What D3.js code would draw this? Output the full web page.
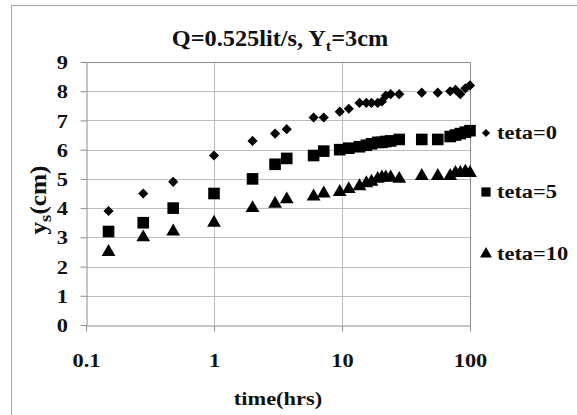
<!DOCTYPE html>
<html>
<head>
<meta charset="utf-8">
<script src="https://cdn.jsdelivr.net/npm/d3@7"></script>
<style>
  html, body { margin: 0; padding: 0; background: #fff; }
  svg { display: block; }
</style>
</head>
<body>
<svg id="chart" width="577" height="415"></svg>
<script>
// ---- data ----
const times  = [0.15, 0.28, 0.48, 1, 2, 3, 3.7, 6, 7.2, 9.6, 11.3, 13.7, 15.5, 17, 19, 20.5, 22, 24, 28, 42, 56, 70, 77, 84, 92, 100];
const teta0  = [3.9, 4.5, 4.9, 5.8, 6.3, 6.55, 6.7, 7.1, 7.1, 7.3, 7.4, 7.6, 7.6, 7.6, 7.6, 7.65, 7.85, 7.9, 7.9, 7.95, 7.95, 8.0, 8.05, 7.9, 8.1, 8.2];
const teta5  = [3.2, 3.5, 4.0, 4.5, 5.0, 5.5, 5.7, 5.8, 5.95, 6.0, 6.05, 6.1, 6.15, 6.2, 6.25, 6.25, 6.28, 6.3, 6.35, 6.35, 6.35, 6.45, 6.5, 6.55, 6.6, 6.65];
const teta10 = [2.5, 3.0, 3.2, 3.5, 4.0, 4.15, 4.3, 4.4, 4.5, 4.55, 4.65, 4.75, 4.85, 4.9, 5.0, 5.05, 5.05, 5.05, 5.0, 5.1, 5.1, 5.1, 5.2, 5.2, 5.25, 5.2];
const seriesNames = ["teta=0", "teta=5", "teta=10"];
const xTicks = [0.1, 1, 10, 100];
const xTickLabels = ["0.1", "1", "10", "100"];
const yTicks = [0, 1, 2, 3, 4, 5, 6, 7, 8, 9];

const FONT = "Liberation Serif";
const SX = 1.15;   // the reference text is slightly stretched horizontally

const series = [
  { name: seriesNames[0], values: teta0,  symbol: d3.symbolDiamond2 },
  { name: seriesNames[1], values: teta5,  symbol: d3.symbolSquare },
  { name: seriesNames[2], values: teta10, symbol: d3.symbolTriangle }
];

const svg = d3.select("#chart").attr("font-family", FONT).attr("font-weight", "bold");
const L = 86, R = 470, T = 62, B = 325;

// outer chart border
svg.append("rect").attr("x", 11.5).attr("y", 5.5).attr("width", 600).attr("height", 430)
  .attr("fill", "#fff").attr("stroke", "#a8a8a8").attr("stroke-width", 1);

const x = d3.scaleLog().domain([0.1, 100]).range([L, R]);
const y = d3.scaleLinear().domain([0, 9]).range([B, T]);

// gridlines
const grid = svg.append("g");
grid.selectAll("line.h").data(yTicks.filter(v => v > 0 && v < 9)).join("line")
  .attr("x1", L).attr("x2", R).attr("y1", d => Math.round(y(d)) + 0.5).attr("y2", d => Math.round(y(d)) + 0.5)
  .attr("stroke", "#bdbdbd").attr("stroke-width", 1);
grid.selectAll("line.v").data([1, 10]).join("line")
  .attr("y1", T).attr("y2", B).attr("x1", d => Math.round(x(d)) + 0.5).attr("x2", d => Math.round(x(d)) + 0.5)
  .attr("stroke", "#bdbdbd").attr("stroke-width", 1);

// plot border (top, right)
svg.append("path")
  .attr("d", `M${L + 0.5},${T + 0.5}H${R + 0.5}V${B + 0.5}`)
  .attr("fill", "none").attr("stroke", "#8c8c8c").attr("stroke-width", 1);

function styleText(sel, size) {
  sel.attr("font-family", FONT).attr("font-weight", "bold").attr("font-size", size).attr("fill", "#111");
}

// y axis
const yAxis = svg.append("g").attr("transform", `translate(${L + 0.5},0)`)
  .call(d3.axisLeft(y).tickValues(yTicks).tickFormat(d3.format("d")).tickSizeInner(6).tickSizeOuter(0).tickPadding(12));
yAxis.attr("font-family", FONT).attr("font-size", 19.5);
yAxis.select(".domain").attr("stroke", "#8c8c8c");
yAxis.selectAll(".tick line").attr("stroke", "#8c8c8c");
yAxis.selectAll(".tick text").call(styleText, 19.5)
  .attr("x", null).attr("dy", "0.34em")
  .attr("transform", `translate(-18.5,0) scale(${SX},1)`);

// x axis
const xAxis = svg.append("g").attr("transform", `translate(0,${B + 0.5})`)
  .call(d3.axisBottom(x).tickValues(xTicks).tickFormat((d, i) => xTickLabels[i]).tickSizeInner(6).tickSizeOuter(0));
xAxis.attr("font-family", FONT).attr("font-size", 19.5);
xAxis.select(".domain").attr("stroke", "#8c8c8c");
xAxis.selectAll(".tick line").attr("stroke", "#8c8c8c");
xAxis.selectAll(".tick text").call(styleText, 19.5).attr("y", null).attr("dy", 0)
  .attr("transform", `translate(0,41) scale(${SX},1)`);

// points
series.forEach(s => {
  const size = s.symbol === d3.symbolDiamond2 ? 66 : (s.symbol === d3.symbolSquare ? 135 : 82);
  const sym = d3.symbol().type(s.symbol).size(size);
  svg.append("g").selectAll("path").data(times.map((t, i) => [t, s.values[i]])).join("path")
    .attr("d", sym)
    .attr("transform", d => `translate(${x(d[0])},${y(d[1])})`)
    .attr("fill", "#000");
});

// title
const title = svg.append("text").attr("transform", `translate(280,46) scale(1.08,1)`)
  .attr("text-anchor", "middle").call(styleText, 22.5);
title.append("tspan").text("Q=0.525lit/s, Y");
title.append("tspan").attr("font-size", 15).attr("dy", 5).text("t");
title.append("tspan").attr("dy", -5).text("=3cm");

// x axis title
svg.append("text").attr("transform", `translate(278,405) scale(${SX},1)`)
  .attr("text-anchor", "middle").call(styleText, 19.5).text("time(hrs)");

// y axis title
const yt = svg.append("text").attr("transform", "translate(46,200) rotate(-90) scale(1.1,1)")
  .attr("text-anchor", "middle").call(styleText, 23);
yt.append("tspan").text("y");
yt.append("tspan").attr("font-size", 17).attr("dy", 5).text("s");
yt.append("tspan").attr("dy", -5).text("(cm)");

// legend
const legY = [133, 192, 254];
series.forEach((s, i) => {
  const size = s.symbol === d3.symbolDiamond2 ? 42 : (s.symbol === d3.symbolSquare ? 85 : 62);
  const sym = d3.symbol().type(s.symbol).size(size);
  svg.append("path").attr("d", sym).attr("transform", `translate(486,${legY[i]})`).attr("fill", "#000");
  svg.append("text").attr("transform", `translate(497,${legY[i] + 6}) scale(${SX},1)`).call(styleText, 19.5).text(s.name);
});
</script>
</body>
</html>
